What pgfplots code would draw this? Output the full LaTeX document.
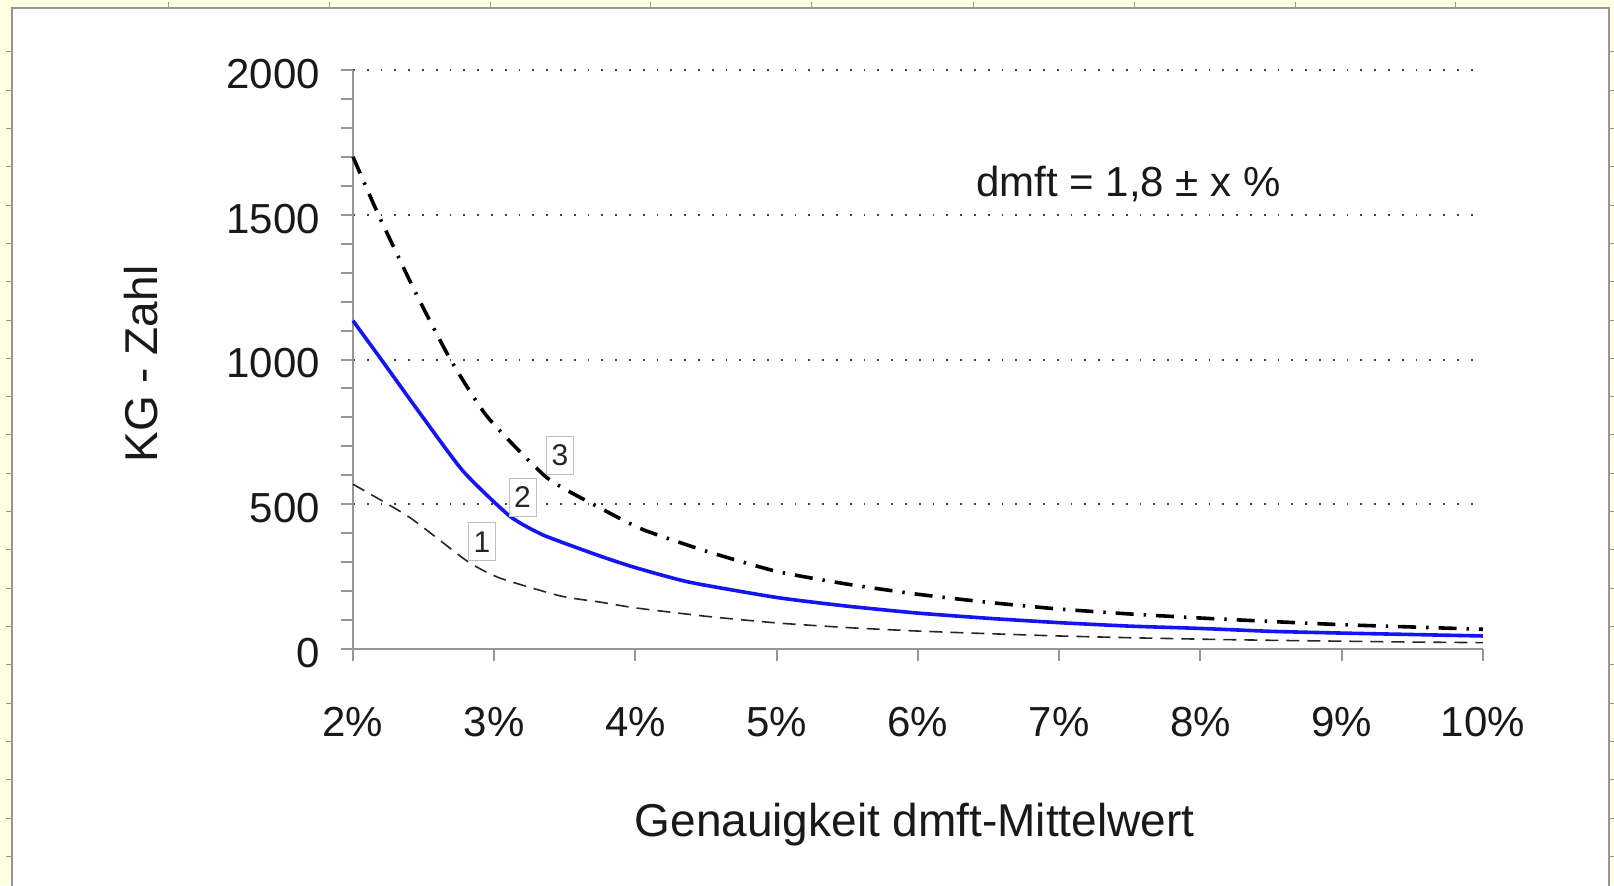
\documentclass[border=0pt]{standalone}
\usepackage{fontspec}
\setmainfont{Liberation Sans}
\usepackage{pgfplots}
\pgfplotsset{compat=1.18}
\definecolor{panelbg}{RGB}{255,255,226}
\definecolor{axgray}{RGB}{150,150,150}
\definecolor{curveblue}{RGB}{20,20,245}

% curve 1 (dashed)
\pgfplotstableread{
x     y
2     569
2.4   455
2.81  303
3.04  245
3.47  183
3.75  162
4     142
4.5   113
5     90
5.5   74
6     62
6.5   53
7     45
7.5   39
8     34
8.5   30
9     27
9.5   24
10    22
}\kgone
% curve 2 (blue)
\pgfplotstableread{
x     y
2     1134
2.2   1000
2.47  817
2.78  614
3.11  459
3.35  393
3.75  321
4     281
4.38  231
5     178
5.5   148
6     124
6.5   106
7     91
7.5   79
8     71
8.5   61
9     55
9.5   50
10    45
}\kgtwo
% curve 3 (dash-dot)
\pgfplotstableread{
x     y
2     1700
2.18  1500
2.45  1224
2.69  1000
2.95  803
3.37  593
3.75  487
4.05  413
4.5   338
5     268
5.5   224
6     189
6.5   161
7     138
7.5   121
8     107
8.5   95
9     84
9.5   76
10    68
}\kgthree

\begin{document}
\begin{tikzpicture}[
    numbox/.style={draw=black!25, fill=white, inner sep=0pt, minimum width=13.5pt,
      minimum height=19pt, font=\fontsize{15}{18}\selectfont, text=black!85}]
% page background and white panel
\path[use as bounding box] (0pt,0pt) rectangle (807pt,442.5pt);
\fill[panelbg] (0pt,0pt) rectangle (807pt,442.5pt);
\fill[white] (6pt,0pt) rectangle (804.5pt,438.5pt);
\draw[axgray,line width=1pt] (6pt,-1pt) -- (6pt,438.5pt) -- (804.5pt,438.5pt) -- (804.5pt,-1pt);
\foreach \x in {84,164.5,245,325,405.5,486.5,567,647.5,727.5}
  \draw[axgray,line width=0.5pt] (\x pt,438.5pt) -- (\x pt,441.5pt);
\foreach \k in {0,...,21}{
  \draw[axgray,line width=0.5pt] (3pt,416.5pt-\k*19.15pt) -- (6pt,416.5pt-\k*19.15pt);
  \draw[axgray,line width=0.5pt] (804.5pt,416.5pt-\k*19.15pt) -- (807pt,416.5pt-\k*19.15pt);
}

\begin{axis}[
    at={(176.5pt,118pt)}, anchor=south west,
    scale only axis, width=565pt, height=289.5pt,
    xmin=2, xmax=10, ymin=0, ymax=2000,
    axis lines*=left,
    axis line style={axgray,line width=1pt},
    tick style={axgray,line width=1pt},
    tick align=outside,
    major tick length=6pt, minor tick length=6pt,
    xtick={2,...,10},
    xticklabels={2\%,3\%,4\%,5\%,6\%,7\%,8\%,9\%,10\%},
    ytick={0,500,...,2000},
    yticklabels={0,500,1000,1500,2000},
    minor y tick num=4,
    ymajorgrids,
    major grid style={black!75,line width=1pt,dash pattern=on 0.9pt off 6pt},
    tick label style={font=\fontsize{21}{25}\selectfont, text=black!90},
    xticklabel style={yshift=-19.5pt},
    yticklabel style={xshift=-7pt, yshift=-2pt},
    label style={font=\fontsize{23}{27}\selectfont, text=black!90},
    xlabel={Genauigkeit dmft-Mittelwert},
    xlabel style={at={(axis description cs:0.497,-0.304)}, anchor=center},
    ylabel={KG - Zahl},
    ylabel style={at={(axis description cs:-0.1876,0.492)}, anchor=center},
    clip=false,
]
\addplot[black!85, line width=0.8pt, dash pattern=on 6.5pt off 4pt, smooth, tension=0.35] table {\kgone};
\addplot[curveblue, line width=1.8pt, smooth, tension=0.35] table {\kgtwo};
\addplot[black, line width=1.8pt, dash pattern=on 9pt off 5pt on 1.2pt off 5pt, smooth, tension=0.35] table {\kgthree};
\node[numbox] at (axis cs:2.913,370) {1};
\node[numbox] at (axis cs:3.20,525) {2};
\node[numbox] at (axis cs:3.465,670) {3};
\node[font=\fontsize{21}{25}\selectfont, text=black!90] at (axis cs:7.49,1607) {dmft = 1,8 ± x \%};
\end{axis}
\end{tikzpicture}
\end{document}
